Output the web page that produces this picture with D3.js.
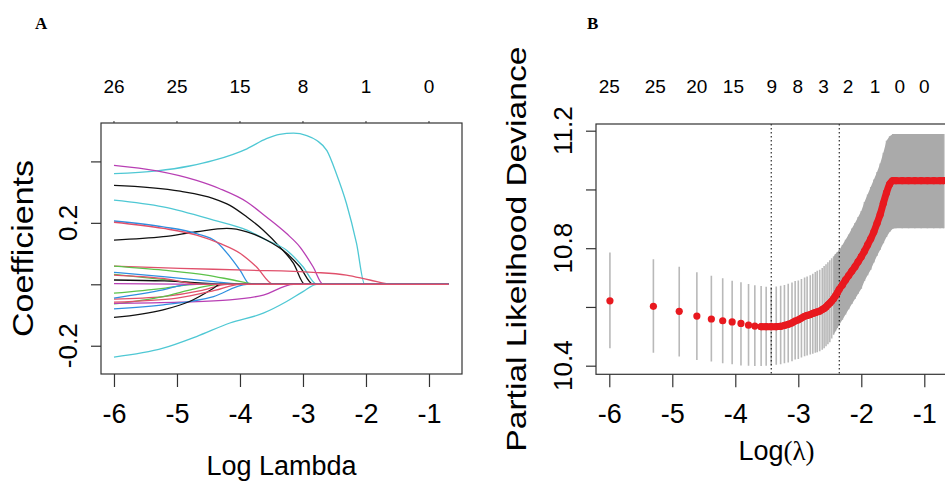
<!DOCTYPE html>
<html>
<head>
<meta charset="utf-8">
<script src="https://cdnjs.cloudflare.com/ajax/libs/d3/7.8.5/d3.min.js"></script>
<style>
  body { margin: 0; background: #fff; }
  svg { display: block; }
</style>
</head>
<body>
<svg id="fig" width="945" height="483"></svg>
<script>
// ---------- panel A: lasso coefficient paths ----------
// each path is [log lambda, coefficient]
const lastLogLambda = -0.69;
const xTicksA = [-6, -5, -4, -3, -2, -1];
const topCountsA = ["26", "25", "15", "8", "1", "0"];
const yTicksA = [-0.2, 0, 0.2, 0.4];
const yLabelsA = [-0.2, 0.2];

const pathColours = [
  "#4fc8d4", "#b83fb4", "#111111", "#4fc8d4", "#111111", "#2f8fe0",
  "#e0506b", "#e0506b", "#5cc24a", "#2f8fe0", "#5cc24a", "#111111",
  "#5cc24a", "#e0506b", "#2f8fe0", "#5cc24a", "#b83fb4", "#2f8fe0",
  "#111111", "#e0506b", "#4fc8d4", "#b83fb4", "#e0506b"
];
const coefPaths = [
  [[-6,0.36],[-5.32,0.369],[-4.8,0.385],[-4.42,0.403],[-3.89,0.441],[-3.58,0.474],[-3.37,0.488],[-3.15,0.492],[-2.94,0.484],[-2.78,0.468],[-2.62,0.435],[-2.47,0.36],[-2.31,0.263],[-2.15,0.133],[-2.02,0]],
  [[-6,0.387],[-5.32,0.369],[-4.69,0.338],[-4.32,0.311],[-3.89,0.268],[-3.58,0.219],[-3.26,0.165],[-3.05,0.122],[-2.84,0.057],[-2.68,0]],
  [[-6,0.322],[-4.95,0.303],[-4.42,0.279],[-4.16,0.257],[-3.89,0.219],[-3.63,0.176],[-3.37,0.122],[-3.15,0.068],[-2.97,0]],
  [[-6,0.274],[-5.22,0.252],[-4.42,0.209],[-3.89,0.176],[-3.58,0.144],[-3.26,0.111],[-3.0,0.057],[-2.78,0]],
  [[-6,0.144],[-5.22,0.155],[-4.69,0.171],[-4.21,0.182],[-3.89,0.171],[-3.58,0.144],[-3.26,0.101],[-3.05,0.057],[-2.84,0]],
  [[-6,0.206],[-5.22,0.187],[-4.69,0.165],[-4.37,0.138],[-4.16,0.09],[-4.0,0.046],[-3.84,0]],
  [[-6,0.202],[-5.22,0.182],[-4.69,0.16],[-4.32,0.133],[-4.0,0.101],[-3.74,0.057],[-3.47,0]],
  [[-6,0.059],[-4.95,0.052],[-3.89,0.046],[-2.84,0.039],[-2.31,0.03],[-1.94,0.014],[-1.57,0]],
  [[-6,0.059],[-5.22,0.046],[-4.53,0.03],[-4.11,0.014],[-3.74,0]],
  [[-6,0.039],[-5.22,0.025],[-4.42,0.009],[-3.89,0]],
  [[-6,0.032],[-5.2,0.015],[-4.42,0]],
  [[-6,0.014],[-5.2,0.011],[-4.2,0]],
  [[-6,-0.029],[-5.22,-0.013],[-4.69,0]],
  [[-6,-0.048],[-5.22,-0.04],[-4.6,-0.02],[-4.2,0]],
  [[-6,-0.045],[-5.22,-0.018],[-4.8,0]],
  [[-6,-0.064],[-5.22,-0.04],[-4.69,-0.013],[-4.32,0]],
  [[-6,-0.062],[-4.95,-0.058],[-4.16,-0.051],[-3.63,-0.035],[-3.15,0]],
  [[-6,-0.08],[-5.22,-0.067],[-4.42,-0.04],[-3.89,0]],
  [[-6,-0.108],[-5.22,-0.083],[-4.8,-0.056],[-4.42,-0.013],[-4.32,0]],
  [[-6,-0.058],[-5.0,-0.045],[-4.4,-0.02],[-4.0,0]],
  [[-6,-0.237],[-5.22,-0.208],[-4.69,-0.17],[-4.16,-0.126],[-3.63,-0.094],[-3.26,-0.056],[-3.0,-0.024],[-2.78,0]],
  [[-6,0.002],[-4.5,0]],
  [[-6,0.03],[-5.22,0.019],[-4.6,0]]
];

// ---------- panel B: cross-validated partial likelihood deviance ----------
const cvLogLambda = [
  -5.99, -5.30, -4.89, -4.61, -4.38, -4.20, -4.05, -3.91, -3.79, -3.69, -3.59, -3.51, -3.43,
  -3.35, -3.28, -3.22, -3.16, -3.10, -3.05, -3.00, -2.95, -2.90, -2.86, -2.81, -2.77, -2.73,
  -2.70, -2.66, -2.62, -2.59, -2.56, -2.53, -2.50, -2.47, -2.44, -2.41, -2.38, -2.35,
  -2.30, -2.25, -2.20, -2.15, -2.10, -2.05, -2.00, -1.95, -1.90, -1.85, -1.80, -1.75,
  -1.70, -1.65, -1.60, -1.55, -1.50,
  -1.45, -1.35, -1.25, -1.15, -1.05, -0.95, -0.85, -0.75, -0.69
];
const cvMean = [
  10.621, 10.602, 10.585, 10.569, 10.559, 10.553, 10.549, 10.544, 10.538, 10.535, 10.533, 10.533, 10.533,
  10.533, 10.534, 10.537, 10.541, 10.546, 10.552, 10.556, 10.562, 10.568, 10.571, 10.574, 10.578, 10.581,
  10.583, 10.586, 10.591, 10.595, 10.600, 10.607, 10.613, 10.620, 10.628, 10.638, 10.648, 10.660,
  10.675, 10.692, 10.707, 10.722, 10.737, 10.754, 10.771, 10.790, 10.811, 10.832, 10.856, 10.885,
  10.915, 10.953, 10.989, 11.018, 11.030,
  11.030, 11.030, 11.030, 11.030, 11.030, 11.030, 11.030, 11.030, 11.030
];
const cvLower = [
  10.459, 10.444, 10.431, 10.419, 10.414, 10.408, 10.405, 10.401, 10.400, 10.399, 10.399, 10.400, 10.401,
  10.403, 10.405, 10.408, 10.411, 10.415, 10.421, 10.423, 10.428, 10.432, 10.435, 10.438, 10.441, 10.444,
  10.446, 10.449, 10.454, 10.459, 10.466, 10.473, 10.480, 10.493, 10.505, 10.517, 10.528, 10.539,
  10.556, 10.574, 10.592, 10.610, 10.627, 10.645, 10.662, 10.688, 10.708, 10.727, 10.751, 10.774,
  10.795, 10.817, 10.838, 10.855, 10.866,
  10.868, 10.868, 10.868, 10.868, 10.868, 10.868, 10.868, 10.868, 10.868
];
const cvUpper = [
  10.785, 10.762, 10.737, 10.718, 10.706, 10.698, 10.689, 10.684, 10.678, 10.674, 10.671, 10.669, 10.668,
  10.670, 10.672, 10.675, 10.679, 10.683, 10.688, 10.690, 10.695, 10.700, 10.704, 10.708, 10.713, 10.719,
  10.723, 10.727, 10.733, 10.739, 10.745, 10.752, 10.759, 10.766, 10.772, 10.780, 10.787, 10.794,
  10.811, 10.829, 10.847, 10.867, 10.886, 10.906, 10.927, 10.957, 10.983, 11.008, 11.034, 11.059,
  11.088, 11.125, 11.166, 11.181, 11.189,
  11.189, 11.189, 11.189, 11.189, 11.189, 11.189, 11.189, 11.189, 11.189
];
const lambdaMin = -3.43;
const lambda1se = -2.35;
const xTicksB = [-6, -5, -4, -3, -2, -1];
const yTicksB = [10.4, 10.6, 10.8, 11.0, 11.2];
const yLabelsB = [10.4, 10.8, 11.2];
const topTickB = [-6.0, -5.27, -4.61, -4.03, -3.42, -3.01, -2.60, -2.21, -1.78, -1.39, -1.0];
const topCountsB = ["25", "25", "20", "15", "9", "8", "3", "2", "1", "0", "0"];

// ---------- drawing ----------
const svg = d3.select("#fig");
const sans = "'Liberation Sans', Arial, sans-serif";
const frameCol = "#333";
// R prints a plain hyphen for negatives, not the unicode minus d3 uses
const plain = d => String(d);
const oneDec = d => d.toFixed(1);

function frame(box) {
  svg.append("rect")
    .attr("x", box.l).attr("y", box.t)
    .attr("width", box.r - box.l).attr("height", box.b - box.t)
    .attr("fill", "none").attr("stroke", frameCol).attr("stroke-width", 1.2);
}

function bottomAxis(x, box, ticks) {
  const g = svg.append("g").attr("transform", `translate(0,${box.b})`)
    .call(d3.axisBottom(x).tickValues(ticks).tickSize(13).tickPadding(17)
      .tickFormat(plain));
  g.select(".domain").remove();
  g.selectAll("line").attr("stroke", frameCol).attr("stroke-width", 1.2);
  g.selectAll("text").attr("font-family", sans).attr("font-size", 27).attr("fill", "#000");
}

function leftAxis(y, box, ticks, labels, fmt, labelX) {
  const g = svg.append("g").attr("transform", `translate(${box.l},0)`)
    .call(d3.axisLeft(y).tickValues(ticks).tickSize(10).tickFormat(""));
  g.select(".domain").remove();
  g.selectAll("line").attr("stroke", frameCol).attr("stroke-width", 1.2);
  svg.append("g").selectAll("text").data(labels).join("text")
    .attr("transform", d => `translate(${labelX},${y(d)}) rotate(-90)`)
    .attr("text-anchor", "middle")
    .attr("font-family", sans).attr("font-size", 26)
    .text(fmt);
}

function topLabels(x, box, ticks, labels, tickLen) {
  const g = svg.append("g");
  if (tickLen > 0) {
    g.selectAll("line").data(ticks).join("line")
      .attr("x1", d => x(d)).attr("x2", d => x(d))
      .attr("y1", box.t).attr("y2", box.t - tickLen)
      .attr("stroke", frameCol);
  }
  g.selectAll("text").data(ticks).join("text")
    .attr("x", d => x(d)).attr("y", 93)
    .attr("text-anchor", "middle")
    .attr("font-family", sans).attr("font-size", 19)
    .text((d, i) => labels[i]);
}

// ----- panel A -----
const boxA = {l: 101, r: 462, t: 123, b: 374};
const xA = d3.scaleLinear().domain([-6.206, -0.476]).range([boxA.l, boxA.r]);
const yA = d3.scaleLinear().domain([-0.292, 0.525]).range([boxA.b, boxA.t]);

svg.append("clipPath").attr("id", "clipA").append("rect")
  .attr("x", boxA.l).attr("y", boxA.t)
  .attr("width", boxA.r - boxA.l).attr("height", boxA.b - boxA.t);

const coefLine = d3.line()
  .x(d => xA(d[0])).y(d => yA(d[1]))
  .curve(d3.curveMonotoneX);

svg.append("g").attr("clip-path", "url(#clipA)")
  .selectAll("path").data(coefPaths).join("path")
  .attr("d", p => coefLine(p.concat([[lastLogLambda, 0]])))
  .attr("fill", "none")
  .attr("stroke", (p, i) => pathColours[i])
  .attr("stroke-width", 1.3);

frame(boxA);
bottomAxis(xA, boxA, xTicksA);
leftAxis(yA, boxA, yTicksA, yLabelsA, oneDec, 77);
topLabels(xA, boxA, xTicksA, topCountsA, 2);

svg.append("text")
  .attr("x", (boxA.l + boxA.r) / 2).attr("y", 475)
  .attr("text-anchor", "middle")
  .attr("font-family", sans).attr("font-size", 27)
  .text("Log Lambda");
svg.append("text")
  .attr("transform", `translate(33,${(boxA.t + boxA.b) / 2}) rotate(-90)`)
  .attr("text-anchor", "middle")
  .attr("font-family", sans).attr("font-size", 30)
  .attr("textLength", 177).attr("lengthAdjust", "spacingAndGlyphs")
  .text("Coefficients");
svg.append("text")
  .attr("x", 35).attr("y", 29)
  .attr("font-family", "'Liberation Serif', 'Times New Roman', serif")
  .attr("font-weight", "bold").attr("font-size", 17)
  .text("A");

// ----- panel B -----
const boxB = {l: 596, r: 957, t: 124, b: 374.3};
const xB = d3.scaleLinear().domain([-6.211, -0.481]).range([boxB.l, boxB.r]);
const yB = d3.scaleLinear().domain([10.3707, 11.2228]).range([boxB.b, boxB.t]);

svg.append("clipPath").attr("id", "clipB").append("rect")
  .attr("x", boxB.l).attr("y", boxB.t)
  .attr("width", boxB.r - boxB.l).attr("height", boxB.b - boxB.t);

const cv = cvLogLambda.map((l, i) => ({l: l, m: cvMean[i], lo: cvLower[i], hi: cvUpper[i]}));
const gB = svg.append("g").attr("clip-path", "url(#clipB)");

// error bars
gB.selectAll("line.bar").data(cv).join("line").attr("class", "bar")
  .attr("x1", d => xB(d.l)).attr("x2", d => xB(d.l))
  .attr("y1", d => yB(d.lo)).attr("y2", d => yB(d.hi))
  .attr("stroke", "#b9b9b9").attr("stroke-width", 1.6);

// where the bars are packed tighter than their width they read as a solid band
const solidFrom = -2.45;
gB.append("path")
  .datum(cv.filter(d => d.l >= solidFrom))
  .attr("d", d3.area().x(d => xB(d.l)).y0(d => yB(d.lo)).y1(d => yB(d.hi)))
  .attr("fill", "#aaaaaa");

// dotted lines at lambda.min and lambda.1se
gB.selectAll("line.vl").data([lambdaMin, lambda1se]).join("line").attr("class", "vl")
  .attr("x1", d => xB(d)).attr("x2", d => xB(d))
  .attr("y1", boxB.t).attr("y2", boxB.b)
  .attr("stroke", "#000").attr("stroke-width", 1)
  .attr("stroke-dasharray", "1.5,2.5");

// points: dense part reads as a thick line
const denseFrom = -3.65;
gB.append("path")
  .datum(cv.filter(d => d.l >= denseFrom))
  .attr("d", d3.line().x(d => xB(d.l)).y(d => yB(d.m)).curve(d3.curveMonotoneX))
  .attr("fill", "none").attr("stroke", "#e8191f")
  .attr("stroke-width", 7).attr("stroke-linecap", "round").attr("stroke-linejoin", "round");
gB.selectAll("circle").data(cv).join("circle")
  .attr("cx", d => xB(d.l)).attr("cy", d => yB(d.m))
  .attr("r", 3.6).attr("fill", "#e8191f");

frame(boxB);
bottomAxis(xB, boxB, xTicksB);
leftAxis(yB, boxB, yTicksB, yLabelsB, oneDec, 572);
topLabels(xB, boxB, topTickB, topCountsB, 0);

const lab = svg.append("text")
  .attr("x", (boxB.l + boxB.r) / 2).attr("y", 460)
  .attr("text-anchor", "middle")
  .attr("font-family", sans).attr("font-size", 27);
lab.append("tspan").text("Log");
lab.append("tspan").attr("font-family", "'Liberation Serif', 'DejaVu Serif', serif").text("(λ)");

svg.append("text")
  .attr("transform", `translate(526,${(boxB.t + boxB.b) / 2}) rotate(-90)`)
  .attr("text-anchor", "middle")
  .attr("font-family", sans).attr("font-size", 28)
  .attr("textLength", 405).attr("lengthAdjust", "spacingAndGlyphs")
  .text("Partial Likelihood Deviance");
svg.append("text")
  .attr("x", 587).attr("y", 29)
  .attr("font-family", "'Liberation Serif', 'Times New Roman', serif")
  .attr("font-weight", "bold").attr("font-size", 17)
  .text("B");
</script>
</body>
</html>
